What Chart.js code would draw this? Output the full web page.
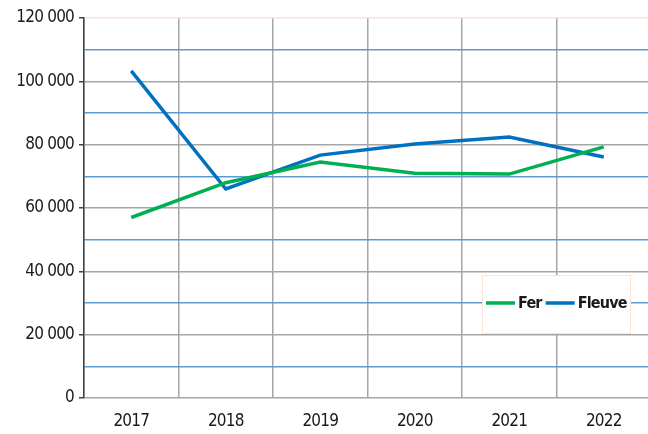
<!DOCTYPE html>
<html><head><meta charset="utf-8">
<script src="https://cdn.jsdelivr.net/npm/chart.js@4/dist/chart.umd.min.js"></script>
<style>html,body{margin:0;padding:0;background:#fff;overflow:hidden}#wrap{width:648px;height:434px;overflow:hidden}</style>
</head><body><div id="wrap"><canvas id="c" width="651" height="434"></canvas></div>
<script>
const categories = ['2017','2018','2019','2020','2021','2022'];
const ferValues = [57000, 68000, 74500, 71000, 70700, 79300];
const fleuveValues = [103300, 66000, 76700, 80200, 82400, 76100];
const seriesNames = ['Fer', 'Fleuve'];
const yMax = 120000, yStep = 10000, yLabelStep = 20000;

const FONT = '"DejaVu Sans Condensed", "DejaVu Sans", sans-serif';
const fmt = v => String(v).replace(/\B(?=(\d{3})+(?!\d))/g, ' ');

const spacingPlugin = {
  id: 'spacing',
  beforeDraw(chart) { chart.ctx.letterSpacing = '-0.8px'; }
};

const legendPlugin = {
  id: 'boxLegend',
  afterDraw(chart) {
    const ctx = chart.ctx;
    const x0 = 482, y0 = 275, w = 148, h = 58;
    ctx.save();
    ctx.fillStyle = '#fff';
    ctx.fillRect(x0, y0, w, h);
    ctx.strokeStyle = '#FBE3D6';
    ctx.lineWidth = 1;
    ctx.strokeRect(x0 + 0.5, y0 + 0.5, w, h);
    ctx.font = 'bold 16px ' + FONT;
    ctx.letterSpacing = '-0.8px';
    ctx.textBaseline = 'middle';
    let x = x0 + 4;
    const yc = y0 + 28;
    chart.data.datasets.forEach(ds => {
      ctx.strokeStyle = ds.borderColor;
      ctx.lineWidth = 3.5;
      ctx.beginPath(); ctx.moveTo(x, yc); ctx.lineTo(x + 29, yc); ctx.stroke();
      x += 32;
      ctx.fillStyle = '#1a1a1a';
      ctx.fillText(ds.label, x, yc + 1);
      x += ctx.measureText(ds.label).width + 4;
    });
    ctx.restore();
  }
};

new Chart(document.getElementById('c'), {
  type: 'line',
  data: {
    labels: categories,
    datasets: [
      { label: seriesNames[0], data: ferValues, borderColor: '#00B050', borderWidth: 3.5, pointRadius: 0, tension: 0 },
      { label: seriesNames[1], data: fleuveValues, borderColor: '#0070C0', borderWidth: 3.5, pointRadius: 0, tension: 0 }
    ]
  },
  options: {
    responsive: false,
    animation: false,
    layout: { padding: { top: 18, right: 0, bottom: 0, left: 0 } },
    plugins: { legend: { display: false }, tooltip: { enabled: false } },
    scales: {
      x: {
        offset: true,
        grid: { offset: true, color: c => c.tick ? '#A6A6A6' : 'rgba(0,0,0,0)', lineWidth: 1.5, drawTicks: false },
        border: { display: false },
        ticks: { color: '#1a1a1a', font: { family: FONT, size: 17 }, padding: 13 },
        afterFit(s) { s.height = 36; }
      },
      y: {
        min: 0, max: yMax,
        grid: {
          color: c => c.tick.value === yMax ? '#FBE3D6' : (c.tick.value % yLabelStep === 0 ? '#A6A6A6' : '#5B9BD5'),
          lineWidth: 1.5,
          tickLength: 5,
          tickColor: c => c.tick.value % yLabelStep === 0 ? '#404040' : 'rgba(0,0,0,0)'
        },
        border: { color: '#404040', width: 1.5 },
        ticks: {
          stepSize: yStep,
          autoSkip: false,
          color: '#1a1a1a',
          font: { family: FONT, size: 17 },
          padding: 5,
          callback: v => v % yLabelStep === 0 ? fmt(v) : ''
        },
        afterFit(s) { s.width = 84; }
      }
    }
  },
  plugins: [spacingPlugin, legendPlugin]
});
</script></body></html>
